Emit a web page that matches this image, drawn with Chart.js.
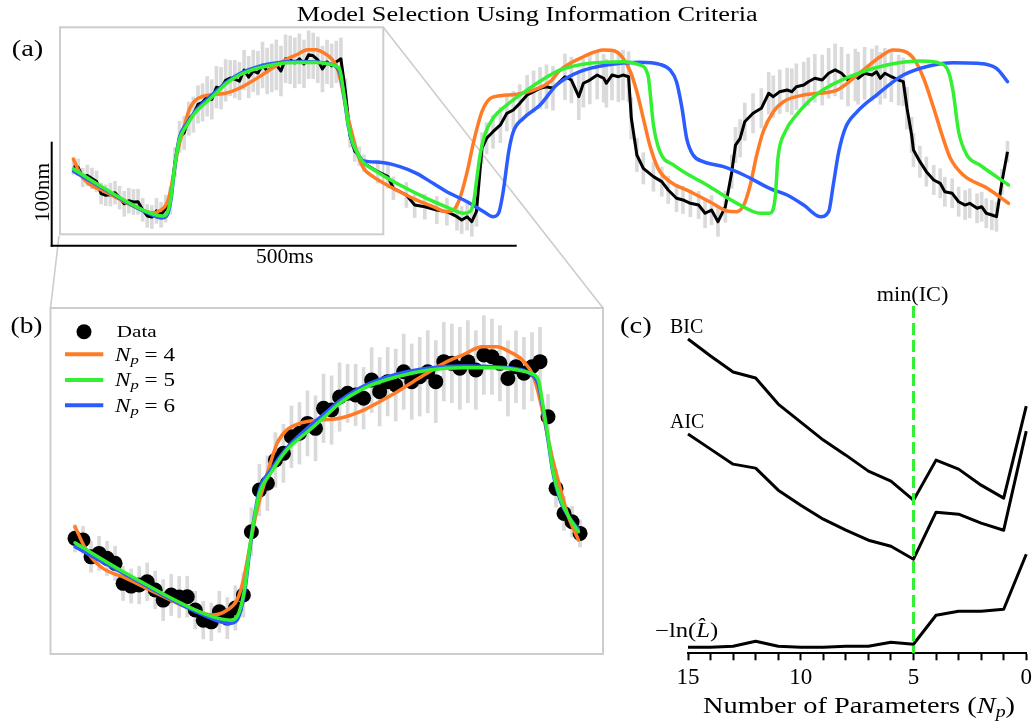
<!DOCTYPE html>
<html>
<head>
<meta charset="utf-8">
<script src="https://cdn.jsdelivr.net/npm/chart.js@4.4.1/dist/chart.umd.min.js"></script>
<style>
  body { margin: 0; background: #fff; }
  #page { position: relative; width: 1036px; height: 722px; overflow: hidden; }
  #page canvas, #page svg { position: absolute; }
  svg text { font-family: 'Liberation Serif', serif; fill: #000; }
</style>
</head>
<body>
<div id="page">
  <!-- zoom box, connector lines and panel (b) frame, behind the charts -->
  <svg width="1036" height="722" style="left:0;top:0">
    <rect x="60" y="27.3" width="323.3" height="207" fill="none" stroke="#cdcdcd" stroke-width="2"/>
    <line x1="383.3" y1="27.3" x2="603" y2="308" stroke="#cdcdcd" stroke-width="1.6"/>
    <line x1="59" y1="236" x2="50.5" y2="308" stroke="#cdcdcd" stroke-width="1.6"/>
    <rect x="50.5" y="308" width="552.5" height="346" fill="none" stroke="#cdcdcd" stroke-width="2"/>
  </svg>

  <canvas id="chartA" width="1036" height="230" style="left:0;top:20px;width:1036px;height:230px"></canvas>
  <canvas id="chartB" width="553" height="346" style="left:50px;top:308px;width:553px;height:346px"></canvas>
  <canvas id="chartC" width="376" height="422" style="left:660px;top:300px;width:376px;height:422px"></canvas>

  <!-- texts, scale bars and legend -->
  <svg width="1036" height="722" style="left:0;top:0;pointer-events:none">
    <text x="296.7" y="20.7" font-size="20.5" textLength="461" lengthAdjust="spacingAndGlyphs">Model Selection Using Information Criteria</text>
    <text x="11.7" y="55.5" font-size="24" textLength="31.6" lengthAdjust="spacingAndGlyphs">(a)</text>
    <text x="10.5" y="332.5" font-size="24" textLength="32" lengthAdjust="spacingAndGlyphs">(b)</text>
    <text x="620" y="332.5" font-size="24" textLength="31.7" lengthAdjust="spacingAndGlyphs">(c)</text>

    <line x1="51.7" y1="141.7" x2="51.7" y2="246.7" stroke="#000" stroke-width="2"/>
    <line x1="50.7" y1="245.7" x2="516.7" y2="245.7" stroke="#000" stroke-width="2"/>
    <text transform="translate(48.5,192.5) rotate(-90)" text-anchor="middle" font-size="20" textLength="59" lengthAdjust="spacingAndGlyphs">100nm</text>
    <text x="284.7" y="263" text-anchor="middle" font-size="20" textLength="57.3" lengthAdjust="spacingAndGlyphs">500ms</text>

    <circle cx="84" cy="331.7" r="7.5" fill="#000"/>
    <text x="116.7" y="337.3" font-size="17" textLength="40" lengthAdjust="spacingAndGlyphs">Data</text>
    <line id="legOrange" x1="65" y1="354.3" x2="103.3" y2="354.3" stroke-width="4"/>
    <text x="115" y="360.7" font-size="18" textLength="60" lengthAdjust="spacingAndGlyphs"><tspan font-style="italic">N</tspan><tspan font-style="italic" font-size="13" dy="3">p</tspan><tspan dy="-3"> = 4</tspan></text>
    <line id="legGreen" x1="65" y1="380" x2="103.3" y2="380" stroke-width="4"/>
    <text x="115" y="386" font-size="18" textLength="60" lengthAdjust="spacingAndGlyphs"><tspan font-style="italic">N</tspan><tspan font-style="italic" font-size="13" dy="3">p</tspan><tspan dy="-3"> = 5</tspan></text>
    <line id="legBlue" x1="65" y1="405.3" x2="103.3" y2="405.3" stroke-width="4"/>
    <text x="115" y="411.7" font-size="18" textLength="60" lengthAdjust="spacingAndGlyphs"><tspan font-style="italic">N</tspan><tspan font-style="italic" font-size="13" dy="3">p</tspan><tspan dy="-3"> = 6</tspan></text>

    <text x="670" y="333.3" font-size="20" textLength="33.3" lengthAdjust="spacingAndGlyphs">BIC</text>
    <text x="670" y="427.7" font-size="20" textLength="34.3" lengthAdjust="spacingAndGlyphs">AIC</text>
    <text x="655" y="636.5" font-size="20" textLength="63.3" lengthAdjust="spacingAndGlyphs">−ln(<tspan font-style="italic">L̂</tspan>)</text>
    <text id="minLabel" x="876.7" y="301" font-size="20" textLength="71.6" lengthAdjust="spacingAndGlyphs">min(IC)</text>
    <text x="703" y="712.7" font-size="23" textLength="312" lengthAdjust="spacingAndGlyphs">Number of Parameters (<tspan font-style="italic">N</tspan><tspan font-style="italic" font-size="16" dy="4">p</tspan><tspan dy="-4">)</tspan></text>
  </svg>
</div>

<script>
// Farben der drei Modelle
const ORANGE = '#ff7b25';
const GREEN  = '#33f033';
const BLUE   = '#2a5cff';
const ERRBAR = '#dadada';

// ---- Messdaten im Ausschnitt (Zeit in ms, Auslenkung in nm) ----
const dataT = [0,5,10,15,20,25,30,35,40,45,50,55,60,65,70,75,80,85,90,95,100,105,110,115,120,125,130,135,140,145,150,155,160,165,170,175,180,185,190,195,200,205,210,215,220,225,230,235,240,245,250,255,260,265,270,275,280,285,290,295,300,305,310,315];
const dataY = [66.1,65.1,55.3,57.3,54.4,51.5,39.8,38.2,38.8,40.7,
               35.9,30.0,33.0,31.8,32.0,24.2,18.3,17.3,23.2,19.5,
               25.4,33.0,70.0,94.3,98.3,111.9,115.8,125.5,127.5,133.3,
               130.4,142.1,141.1,148.7,150.9,149.9,148.0,158.6,151.8,157.7,
               155.7,163.5,157.7,160.6,163.5,157.7,169.4,168.4,165.5,169.4,
               164.5,173.3,172.3,168.4,159.6,166.4,162.6,166.4,169.4,137.2,
               95.3,80.7,75.8,69.0];
const dataE = [8,8,9,10,10,10, 10,10,11,11,11, 12,12,12,12,11,11,11,12,12,13,13,
               14,15,16,16,17,18,18,19,19,20,20,20,
               17,18,18,19,20,20,21,22,22,23,24,24,23,23,24,24,23,23,22,22,22,21,21,20,20,
               13,11,10,9,8];

// ---- weiterer Verlauf der Messung (nur Panel a) ----
const traceT = [330,341,347,361,370,381,394,405,416,421, 427,432,437,443,448,455,463,470,477,484,
                492,499,506,513,520,533,540,548,553,560, 568,575,578,584,591,596,602,605,611,618,
                629,638,645,654,661,669,678,685,692,699, 707,714,718,723,728,737,746,754,759,766,
                774,779,784,792,797,804,812,819,826,833, 840,848,851,858,866,871,875,880,887,895,
                900,904,909,911,918,925,933,940,945,953, 960,967,972,980,985,990,996,1001,1007,1013];
const traceY = [60.9,56.1,44.9,38.5,28.8,27.2,24.0,22.4,17.6,14.4, 17.6,12.8,22.4,83.4,93.0,99.3,105.8,117.0,120.2,126.6,
                134.6,137.8,141.1,142.6,141.1,152.2,149.0,133.0,145.9,149.0, 153.8,150.7,145.9,153.8,152.2,153.8,152.2,112.2,76.9,64.1,
                56.1,51.3,43.3,35.3,33.7,30.5,28.8,20.9,24.0,12.8, 27.2,60.9,86.5,93.0,108.9,117.0,121.8,136.3,133.0,137.8,
                139.4,137.8,142.6,144.2,147.4,150.7,149.0,155.5,158.7,155.5, 149.0,153.8,150.7,155.5,153.8,157.0,150.7,155.5,152.2,149.0,
                147.4,121.8,96.2,81.7,70.5,60.9,52.9,49.7,41.6,40.1, 32.0,28.8,30.5,25.7,27.2,20.9,19.2,17.6,51.3,80.1];
const traceE = [11,11,11,12,12,12,13,13,13,13, 13,14,14,15,15,16,17,17,18,18,
                19,20,20,21,21,22,22,22,23,23, 23,23,23,24,24,24,24,20,16,15,
                14,14,13,13,13,13,13,14,14,14, 15,16,17,18,18,19,19,20,20,21,
                21,22,22,22,23,23,24,24,25,25, 25,25,25,25,25,25,25,24,24,24,
                23,20,17,16,15,14,14,14,14,14, 14,14,14,14,14,14,14,14,12,10];

// ---- Modellkurven (Np = 4, 5, 6) ----
const n4T = [0,7,16,32,53,74,86,95,101,105,109,113,120,126,132,140,153,165,180,190,
             201,211,221,232,242,254,263,271,280,286,290,294,298,303,307,314,325,340,354,372,
             390,405,412,419,427,434,443,452,463,481,499,517,528,553,575,587,596,604,611,618,
             625,634,647,669,690,709,719,727,734,741,748,759,770,792,828,850,875,889,900,911,
             922,933,942,951,965,991,1014];
const n4Y = [72.9,59.3,49.5,42.7,33.0,24.2,21.3,24.2,30.0,41.7,61.2,80.7,104.1,121.6,129.4,133.3,135.3,136.3,141.1,146.0,
             151.8,157.7,163.5,169.4,173.3,178.1,178.1,175.2,169.4,160.6,147.0,129.4,111.9,94.3,80.7,65.1,56.1,48.1,41.6,33.7,
             27.2,22.4,24.0,35.3,60.9,89.7,118.6,131.4,133.9,135.3,139.4,147.4,158.7,171.4,177.9,176.9,169.9,157.0,137.8,112.2,
             86.5,64.1,51.3,41.6,32.0,23.1,22.4,28.8,48.1,76.9,99.3,118.6,128.2,134.6,139.4,153.8,171.4,177.9,176.9,169.9,
             150.7,121.8,96.2,73.8,57.7,44.9,30.5];

const n5T = [0,32,80,97,101,106,109,112,115,122,132,145,157,165,180,201,221,242,263,276,
             284,289,292,295,298,303,308,314,329,354,383,408,423,430,434,437,441,446,455,470,
             492,517,528,560,596,614,623,629,636,651,687,723,745,755,761,764,772,784,810,846,
             882,918,940,949,954,960,969,983,1014];
const n5Y = [63.5,45.6,22.3,18.3,20.3,37.8,61.2,78.7,92.4,104.1,117.7,128.4,138.2,145.0,153.8,160.6,164.5,165.8,165.8,164.5,
             162.6,158.6,143.0,125.5,106.0,88.5,78.7,70.0,60.9,48.1,35.3,25.7,20.9,22.4,32.0,51.3,76.9,96.2,112.2,125.0,
             139.4,153.8,158.7,165.1,166.6,163.5,153.8,105.8,80.1,67.3,48.1,28.8,20.9,20.9,35.6,73.8,99.3,115.4,137.8,153.8,
             163.5,167.3,165.1,157.0,137.8,99.3,76.9,67.3,48.1];

const n6T = [0,32,80,96,101,106,109,112,115,122,132,145,157,165,180,201,221,242,263,276,
             284,289,292,295,298,303,308,314,332,354,372,390,408,427,445,455,461,466,472,477,
             488,506,524,549,578,614,636,647,654,660,665,672,683,705,727,755,774,792,810,819,
             824,830,837,850,871,900,929,954,980,1001,1013];
const n6Y = [61.2,44.7,21.3,16.4,18.3,35.9,59.3,79.7,94.3,106.0,118.9,130.6,140.0,146.4,155.1,162.2,165.7,166.8,166.3,165.1,
             162.2,155.7,141.1,123.6,104.9,87.3,78.6,71.5,69.9,65.7,59.3,49.7,40.1,32.0,22.4,17.6,20.9,41.6,80.1,99.3,
             112.2,125.0,144.2,157.0,163.5,166.1,164.1,158.7,147.4,121.8,93.0,76.9,70.5,65.7,57.7,44.9,38.5,28.8,17.6,22.4,
             48.1,80.1,102.6,118.6,134.6,153.8,162.8,165.7,165.1,160.3,147.4];

// ---- Informationskriterien (Panel c) ----
const npVals  = [15,14,13,12,11,10,9,8,7,6,5,4,3,2,1,0];
const bic     = [314,297,281,275,249,231,213,198,182,172,153,193,184,168,155,247];
const aic     = [219,204,189,185,163,148,134,123,113,107,94,141,139,130,123,222];
const negLogL = [6,6,7,12,7,6,6,7,7,11,9,38,42,42,44,99];

Chart.defaults.font.family = "'Liberation Serif', serif";
Chart.defaults.color = '#000';

document.getElementById('legOrange').setAttribute('stroke', ORANGE);
document.getElementById('legGreen').setAttribute('stroke', GREEN);
document.getElementById('legBlue').setAttribute('stroke', BLUE);
document.getElementById('minLabel').setAttribute('fill', GREEN);

function pts(ts, ys) { return ts.map((t, i) => ({ x: t, y: ys[i] })); }
function bars(ts, ys, es) { return ts.map((t, i) => ({ x: t, y: [ys[i] - es[i], ys[i] + es[i]] })); }
function upTo(arr, tMax) { return arr.filter(p => p.x <= tMax); }

// Basisoptionen: keine Achsen, Plotfläche = ganze Canvas
function baseOptions(xMin, xMax, yMin, yMax) {
  return {
    responsive: false,
    animation: false,
    devicePixelRatio: 1,
    events: [],
    layout: { padding: 0, autoPadding: false },
    plugins: { legend: { display: false }, tooltip: { enabled: false } },
    scales: {
      x: { type: 'linear', display: false, min: xMin, max: xMax, offset: false },
      y: { type: 'linear', display: false, min: yMin, max: yMax }
    }
  };
}

function fitLine(data, color, order) {
  return {
    type: 'line', data, borderColor: color, borderWidth: 3.5, pointRadius: 0,
    cubicInterpolationMode: 'monotone', borderJoinStyle: 'round', borderCapStyle: 'round',
    clip: false, order
  };
}

// ---------- Panel (a) ----------
const allT = dataT.concat(traceT);
const allY = dataY.concat(traceY);
const allE = dataE.concat(traceE);

new Chart(document.getElementById('chartA'), {
  type: 'line',
  data: {
    datasets: [
      { type: 'bar', data: bars(allT, allY, allE), backgroundColor: ERRBAR,
        barThickness: 3, grouped: false, order: 5 },
      { type: 'line', data: pts(allT, allY), borderColor: '#000', borderWidth: 3,
        pointRadius: 0, tension: 0, borderJoinStyle: 'round', clip: false, order: 4 },
      fitLine(pts(n4T, n4Y), ORANGE, 3),
      fitLine(pts(n6T, n6Y), BLUE, 2),
      fitLine(pts(n5T, n5Y), GREEN, 1)
    ]
  },
  options: baseOptions(-79.72, 1043.9, -14.42, 206.73)
});

// ---------- Panel (b) ----------
const lastT = dataT[dataT.length - 1];

new Chart(document.getElementById('chartB'), {
  type: 'line',
  data: {
    datasets: [
      { type: 'bar', data: bars(dataT, dataY, dataE), backgroundColor: ERRBAR,
        barThickness: 3, grouped: false, order: 5 },
      { type: 'scatter', data: pts(dataT, dataY), backgroundColor: '#000', borderWidth: 0,
        pointRadius: 7.5, clip: false, order: 4 },
      fitLine(upTo(pts(n4T, n4Y), lastT), ORANGE, 3),
      fitLine(upTo(pts(n6T, n6Y), lastT), BLUE, 2),
      fitLine(upTo(pts(n5T, n5Y), lastT), GREEN, 1)
    ]
  },
  options: baseOptions(-15.6, 329.3, -1.5, 200.75)
});

// ---------- Panel (c) ----------
// Gestrichelte Linie beim Minimum des BIC
const minLinePlugin = {
  id: 'minLine',
  afterDatasetsDraw(chart) {
    const best = npVals[bic.indexOf(Math.min(...bic))];
    const x = chart.scales.x.getPixelForValue(best);
    const { top, bottom } = chart.chartArea;
    const ctx = chart.ctx;
    ctx.save();
    ctx.strokeStyle = GREEN;
    ctx.lineWidth = 3;
    ctx.setLineDash([12, 5]);
    ctx.beginPath();
    ctx.moveTo(x, top);
    ctx.lineTo(x, bottom);
    ctx.stroke();
    ctx.restore();
  }
};

function icLine(values) {
  return {
    data: npVals.map((n, i) => ({ x: n, y: values[i] })),
    borderColor: '#000', borderWidth: 3, pointRadius: 0, tension: 0,
    borderJoinStyle: 'round', clip: false
  };
}

new Chart(document.getElementById('chartC'), {
  type: 'line',
  data: { datasets: [icLine(bic), icLine(aic), icLine(negLogL)] },
  options: {
    responsive: false,
    animation: false,
    devicePixelRatio: 1,
    events: [],
    layout: { padding: { left: 28, right: 7, top: 6, bottom: 0 }, autoPadding: false },
    plugins: { legend: { display: false }, tooltip: { enabled: false } },
    scales: {
      x: {
        type: 'linear', reverse: true, min: 0, max: 15, offset: false,
        ticks: {
          stepSize: 1, autoSkip: false, maxRotation: 0, padding: 4,
          font: { size: 23 }, color: '#000',
          callback: v => (v % 5 === 0 ? v : '')
        },
        grid: { display: true, drawOnChartArea: false, drawTicks: true,
                tickLength: 7, tickColor: '#000', tickWidth: 2 },
        border: { display: true, color: '#000', width: 2 },
        afterFit(scale) { scale.height = 68.7; }
      },
      y: { type: 'linear', display: false, min: 0, max: 347 }
    }
  },
  plugins: [minLinePlugin]
});
</script>
</body>
</html>
